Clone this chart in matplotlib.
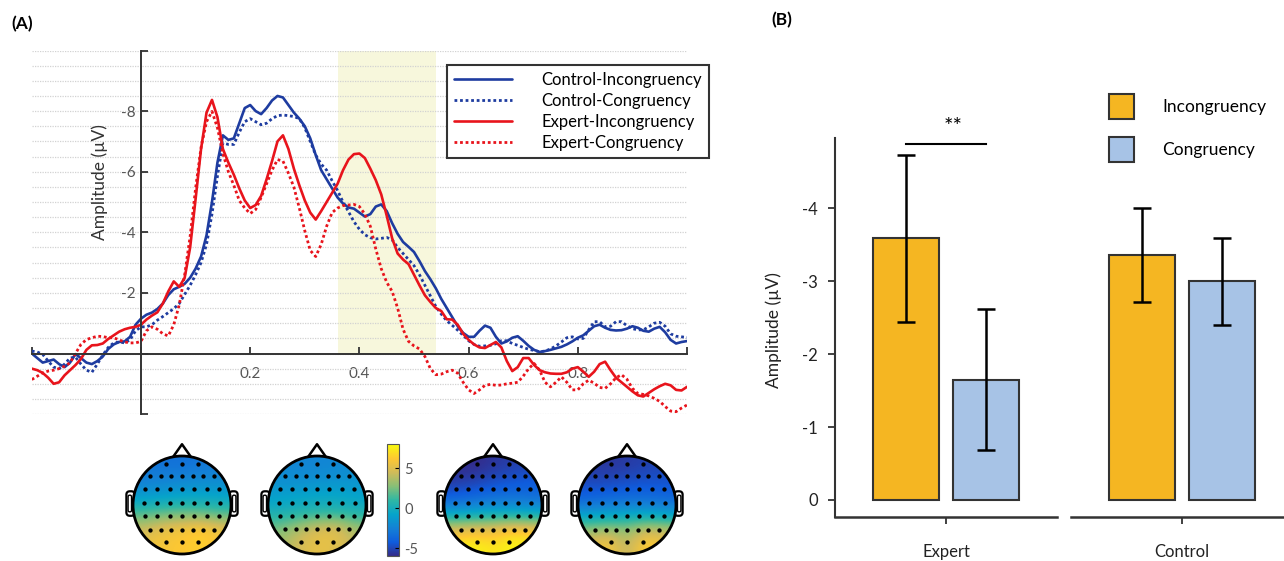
import numpy as np
import matplotlib
matplotlib.use("Agg")
import matplotlib.pyplot as plt
from matplotlib.colors import LinearSegmentedColormap, Normalize
from matplotlib.patches import Circle, Polygon, FancyBboxPatch
from matplotlib.lines import Line2D
from matplotlib.cm import ScalarMappable
from matplotlib.ticker import MultipleLocator, FixedLocator, FixedFormatter

plt.rcParams["font.family"] = ["Lato", "DejaVu Sans"]
plt.rcParams["axes.unicode_minus"] = False

W, H = 1284, 561

# ---------------- data: ERP waveforms (uV), 10 ms steps from -0.2 to 1.0 s
time = np.round(np.arange(-0.20, 1.0001, 0.01), 2)

ctrl_incong = [
    0.0, 0.15, 0.3, 0.25, 0.2, 0.35, 0.45, 0.3, 0.02, 0.15,
    0.3, 0.35, 0.25, 0.1, -0.15, -0.3, -0.38, -0.4, -0.55, -0.95,
    -1.15, -1.28, -1.35, -1.47, -1.65, -1.93, -2.12, -2.2, -2.3, -2.5,
    -2.8, -3.2, -3.9, -5.0, -6.3, -7.2, -7.05, -7.1, -7.6, -8.1,
    -8.2, -8.0, -7.9, -8.1, -8.35, -8.5, -8.45, -8.2, -7.95, -7.75,
    -7.5, -7.1, -6.55, -6.05, -5.75, -5.45, -5.15, -4.95, -4.82, -4.78,
    -4.65, -4.52, -4.6, -4.85, -4.92, -4.7, -4.3, -3.95, -3.68, -3.52,
    -3.35, -3.05, -2.72, -2.45, -2.15, -1.8, -1.5, -1.2, -0.9, -0.68,
    -0.55, -0.55, -0.75, -0.92, -0.85, -0.55, -0.33, -0.4, -0.52, -0.57,
    -0.42, -0.25, -0.12, -0.05, -0.08, -0.12, -0.17, -0.22, -0.3, -0.4,
    -0.52, -0.6, -0.75, -0.9, -0.95, -0.85, -0.78, -0.76, -0.77, -0.82,
    -0.9, -0.85, -0.75, -0.72, -0.82, -0.88, -0.7, -0.45, -0.33, -0.38,
    -0.41,
]
ctrl_cong = [
    -0.08, -0.05, 0.03, 0.25, 0.45, 0.5, 0.35, 0.15, 0.12, 0.35,
    0.55, 0.62, 0.35, 0.05, -0.2, -0.35, -0.38, -0.35, -0.45, -0.75,
    -0.88, -0.88, -0.95, -1.1, -1.22, -1.35, -1.48, -1.65, -1.95, -2.25,
    -2.6, -3.0, -3.6, -4.6, -5.85, -6.95, -6.9, -6.9, -7.3, -7.65,
    -7.75, -7.65, -7.55, -7.6, -7.75, -7.85, -7.87, -7.85, -7.82, -7.75,
    -7.45, -7.0, -6.55, -6.25, -6.05, -5.7, -5.38, -5.0, -4.68, -4.35,
    -4.1, -3.92, -3.82, -3.78, -3.8, -3.83, -3.75, -3.5, -3.3, -3.1,
    -2.9, -2.6, -2.25, -1.9, -1.55, -1.3, -1.08, -0.93, -0.77, -0.6,
    -0.42, -0.3, -0.24, -0.25, -0.27, -0.32, -0.42, -0.42, -0.33, -0.27,
    -0.2, -0.14, -0.1, -0.06, -0.08, -0.15, -0.25, -0.38, -0.52, -0.55,
    -0.48, -0.5, -0.78, -1.05, -1.05, -0.88, -0.9, -1.05, -1.05, -0.92,
    -0.82, -0.78, -0.78, -0.88, -1.0, -1.03, -0.9, -0.65, -0.57, -0.55,
    -0.53,
]
expert_incong = [
    0.5, 0.55, 0.64, 0.8, 1.0, 0.95, 0.72, 0.55, 0.38, 0.18,
    -0.12, -0.27, -0.28, -0.33, -0.48, -0.6, -0.72, -0.8, -0.85, -0.88,
    -0.95, -1.12, -1.25, -1.36, -1.65, -2.05, -2.38, -2.2, -2.5, -3.5,
    -5.1, -6.75, -7.95, -8.37, -7.8, -6.75, -6.3, -5.9, -5.45, -5.05,
    -4.8, -4.9, -5.2, -5.75, -6.35, -7.0, -7.2, -6.75, -6.1, -5.55,
    -5.05, -4.65, -4.42, -4.7, -5.0, -5.3, -5.6, -6.05, -6.4, -6.58,
    -6.6, -6.45, -6.1, -5.72, -5.25, -4.55, -3.8, -3.3, -3.1, -2.95,
    -2.6, -2.25, -1.92, -1.7, -1.5, -1.4, -1.13, -1.12, -0.95, -0.65,
    -0.45, -0.3, -0.2, -0.18, -0.28, -0.38, -0.2, 0.25, 0.58, 0.45,
    0.15, 0.15, 0.38, 0.55, 0.62, 0.66, 0.67, 0.67, 0.62, 0.5,
    0.45, 0.6, 0.77, 0.6, 0.35, 0.27, 0.55, 0.8, 0.95, 1.1,
    1.25, 1.38, 1.42, 1.3, 1.18, 1.08, 1.0, 1.05, 1.2, 1.22,
    1.1,
]
expert_cong = [
    0.86, 0.75, 0.64, 0.58, 0.55, 0.5, 0.42, 0.31, 0.0, -0.3,
    -0.46, -0.52, -0.57, -0.56, -0.52, -0.52, -0.45, -0.38, -0.35, -0.35,
    -0.4, -0.75, -0.88, -0.8, -0.65, -0.58, -0.95, -1.6, -2.6, -3.87,
    -5.45, -6.8, -7.65, -7.99, -7.45, -6.6, -6.0, -5.55, -5.05, -4.8,
    -4.62, -4.75, -5.15, -5.6, -6.05, -6.4, -6.35, -5.95, -5.49, -4.8,
    -4.05, -3.4, -3.2, -3.6, -4.2, -4.65, -4.8, -4.88, -4.9, -4.92,
    -4.85, -4.6, -4.2, -3.45, -2.8, -2.35, -2.05, -1.5, -0.8, -0.4,
    -0.25, -0.15, 0.1, 0.5, 0.7, 0.68, 0.6, 0.55, 0.65, 0.95,
    1.2, 1.32, 1.2, 1.05, 1.02, 1.05, 1.04, 1.0, 0.98, 0.95,
    0.75, 0.5, 0.33, 0.55, 0.95, 1.1, 0.95, 0.77, 0.95, 1.2,
    1.2, 1.0, 0.88, 0.98, 1.12, 1.15, 1.0, 0.8, 0.7, 0.85,
    1.15, 1.32, 1.35, 1.4, 1.48, 1.58, 1.75, 1.9, 1.92, 1.8,
    1.7,
]
series_labels = ["Control-Incongruency", "Control-Congruency",
                 "Expert-Incongruency", "Expert-Congruency"]
window = (0.361, 0.541)  # analysis window (s)

# ---------------- data: topographies (uV), rows front -> back, cols left -> right
topo_maps = [
    np.array([[-3.0, -3.2, -3.3, -3.0, -2.8],
              [-2.6, -2.4, -2.2, -2.0, -2.0],
              [-1.2, -1.0, -0.8, -0.6, -0.8],
              [1.5, 2.0, 2.2, 2.0, 1.5],
              [4.5, 5.5, 6.0, 6.8, 5.5],
              [5.5, 6.0, 6.2, 6.5, 6.0]]),
    np.array([[-2.2, -2.3, -2.3, -2.2, -2.0],
              [-1.8, -1.8, -1.7, -1.6, -1.6],
              [-1.0, -0.8, -0.6, -0.6, -0.8],
              [0.2, 0.5, 0.8, 0.8, 0.4],
              [2.5, 3.8, 5.0, 5.5, 3.5],
              [3.5, 4.5, 5.5, 5.0, 4.0]]),
    np.array([[-5.8, -6.0, -5.6, -5.3, -5.1],
              [-5.5, -5.3, -4.8, -4.5, -4.3],
              [-4.2, -3.8, -3.5, -3.3, -3.5],
              [-1.0, -0.8, -0.5, -0.5, -0.8],
              [5.0, 5.5, 5.5, 6.5, 6.0],
              [7.5, 8.0, 7.0, 8.0, 7.5]]),
    np.array([[-5.4, -5.6, -5.4, -5.2, -5.0],
              [-5.0, -5.0, -4.8, -4.6, -4.6],
              [-4.1, -3.9, -3.7, -3.7, -3.9],
              [-1.5, -1.2, -1.0, -1.0, -1.4],
              [3.0, 3.5, 3.0, 4.5, 4.0],
              [5.0, 6.5, 3.5, 7.0, 5.5]]),
]
topo_range = (-6, 8)
# electrode layout (unit head radius): row height and x positions per row
elec_rows_y = [0.83, 0.59, 0.32, 0.05, -0.23, -0.50, -0.75]
elec_rows_x = [
    [-0.33, 0.0, 0.33],
    [-0.645, -0.43, -0.215, 0.0, 0.215, 0.43, 0.645],
    [-0.76, -0.51, -0.25, 0.0, 0.25, 0.51, 0.76],
    [-0.78, -0.51, -0.25, 0.0, 0.25, 0.51, 0.78],
    [-0.76, -0.51, -0.25, 0.0, 0.25, 0.51, 0.76],
    [-0.645, -0.43, -0.215, 0.0, 0.215, 0.43, 0.645],
    [-0.33, 0.0, 0.33],
]

# ---------------- data: mean amplitude in window (uV)
groups = ["Expert", "Control"]
conditions = ["Incongruency", "Congruency"]
bar_means = {"Incongruency": [-3.59, -3.36], "Congruency": [-1.65, -3.00]}
bar_errs = {"Incongruency": [1.145, 0.64], "Congruency": [0.97, 0.60]}

# parula-like colormap
parula = LinearSegmentedColormap.from_list("parula", [
    "#352A87", "#0F5CDD", "#1481D6", "#06A4CA", "#2EB7A4",
    "#87BF77", "#D1BB59", "#FEC832", "#F9FB0E"])

BLUE = "#1E3CA0"
RED = "#E8141C"
GREY = "#333333"


def px_axes(fig, x0, y0, x1, y1):
    """Add axes from a pixel box (origin top-left)."""
    return fig.add_axes([x0 / W, 1 - y1 / H, (x1 - x0) / W, (y1 - y0) / H])


fig = plt.figure(figsize=(W / 100, H / 100), dpi=100)

# ================= (A) ERP waveforms
ax = px_axes(fig, 31.8, 50.5, 687, 414.1)
ax.set_xlim(-0.2, 1.0)
ax.set_ylim(2, -10)
ax.set_axisbelow(True)

ax.fill_between(window, 0, -10, color="#F7F7DC", lw=0, zorder=0.3)

styles = [(BLUE, "-"), (BLUE, (0, (1, 1))), (RED, "-"), (RED, (0, (1, 1)))]
for vals, label, (col, ls) in zip([ctrl_incong, ctrl_cong, expert_incong, expert_cong],
                                  series_labels, styles):
    ax.plot(time, vals, color=col, ls=ls, lw=2.0 if ls != "-" else 1.9, label=label,
            solid_capstyle="round")

for side in ("top", "right"):
    ax.spines[side].set_visible(False)
ax.spines["left"].set_position(("data", 0))
ax.spines["bottom"].set_position(("data", 0))
for side in ("left", "bottom"):
    ax.spines[side].set_color(GREY)
    ax.spines[side].set_linewidth(1.4)

ax.yaxis.set_major_locator(FixedLocator([-10, -8, -6, -4, -2, 0, 2]))
ax.yaxis.set_major_formatter(FixedFormatter(["", "-8", "-6", "-4", "-2", "", ""]))
ax.yaxis.set_minor_locator(MultipleLocator(0.5))
ax.xaxis.set_major_locator(FixedLocator([-0.2, 0, 0.2, 0.4, 0.6, 0.8, 1.0]))
ax.xaxis.set_major_formatter(FixedFormatter(["", "", "0.2", "0.4", "0.6", "0.8", ""]))
ax.tick_params(axis="both", which="major", direction="in", length=5, width=1.3,
               color=GREY, labelsize=11, labelcolor="#555555")
ax.tick_params(axis="y", which="major", pad=4)
ax.tick_params(axis="x", which="major", pad=10)
ax.tick_params(axis="y", which="minor", length=0)
ax.grid(True, axis="y", which="both", color="#D2D2D2", ls=(0, (1, 1)), lw=0.9)

fig.text(100 / W, 1 - 182 / H, "Amplitude (µV)", rotation=90, ha="center",
         va="center", fontsize=12.5, color=GREY)
fig.text(11 / W, 1 - 24 / H, "(A)", ha="left", va="center", fontsize=12.5,
         fontweight="bold")

leg = fig.legend(*ax.get_legend_handles_labels(), loc="upper left",
                 bbox_to_anchor=(447 / W, 1 - 65 / H), borderaxespad=0,
                 fontsize=12, handlelength=3.5, handletextpad=1.75,
                 labelspacing=0.3, borderpad=0.42, fancybox=False,
                 framealpha=1, edgecolor=GREY)
leg.get_frame().set_linewidth(1.5)

# ---------------- topographies
norm = Normalize(*topo_range)
elec_x = [x for row in elec_rows_x for x in row]
elec_y = [y for y, row in zip(elec_rows_y, elec_rows_x) for _ in row]
head_cx = [182, 317, 493, 627]
head_cy, R = 505, 49
for cx, grid in zip(head_cx, topo_maps):
    tax = px_axes(fig, cx - 1.25 * R, head_cy - 1.4 * R, cx + 1.25 * R, head_cy + 1.1 * R)
    tax.set_xlim(-1.25, 1.25)
    tax.set_ylim(-1.1, 1.4)
    tax.axis("off")
    for sgn in (-1, 1):
        ear = FancyBboxPatch((sgn * 1.05 - 0.085, -0.22), 0.17, 0.5,
                             boxstyle="round,pad=0,rounding_size=0.07",
                             fc="white", ec="black", lw=1.6, zorder=1)
        tax.add_patch(ear)
        inner = FancyBboxPatch((sgn * 1.065 - 0.035, -0.14), 0.07, 0.34,
                               boxstyle="round,pad=0,rounding_size=0.03",
                               fc="white", ec="black", lw=1.0, zorder=1)
        tax.add_patch(inner)
    nose = Polygon([(-0.19, 0.97), (0, 1.24), (0.19, 0.97)], closed=False,
                   fill=False, ec="black", lw=1.8, joinstyle="round", zorder=1)
    tax.add_patch(nose)
    clip = Circle((0, 0), 1.0, transform=tax.transData)
    im = tax.imshow(grid, extent=(-1, 1, -1, 1), origin="upper", cmap=parula,
                    norm=norm, interpolation="bicubic", zorder=2)
    im.set_clip_path(clip)
    tax.add_patch(Circle((0, 0), 1.0, fill=False, ec="black", lw=2.0, zorder=4))
    tax.plot(elec_x, elec_y, ls="none", marker="o", ms=2.1, color="black", zorder=3)

cax = px_axes(fig, 386.7, 444.3, 399, 444.3 + 14 * 8.0)
cb = fig.colorbar(ScalarMappable(norm=norm, cmap=parula), cax=cax, ticks=[-5, 0, 5])
cb.outline.set_linewidth(0.8)
cb.outline.set_edgecolor("#555555")
cax.tick_params(length=3, width=0.8, direction="in", labelsize=10.5,
                labelcolor="#555555", pad=4)

# ================= (B) bar chart
bx = px_axes(fig, 834.6, 137.7, 1284, 517.3)
px_per_unit = 236.0
bx.set_xlim(-(946 - 834.6) / px_per_unit, (1284 - 946) / px_per_unit)
bx.set_ylim((517.3 - 500) / 72.9, -(500 - 137.7) / 72.9)

xpos = np.arange(len(groups))
bar_w, offset = 0.28, 0.169
bar_colors = {"Incongruency": "#F5B622", "Congruency": "#A7C3E6"}
for k, cond in enumerate(conditions):
    bx.bar(xpos + (2 * k - 1) * offset, bar_means[cond], bar_w,
           color=bar_colors[cond], edgecolor=GREY, lw=1.5,
           yerr=bar_errs[cond], capsize=6.5,
           error_kw=dict(elinewidth=1.8, capthick=1.8, ecolor="black"),
           label=cond, zorder=2)

# significance marker between Expert bars
sig_y = bar_means["Incongruency"][0] - bar_errs["Incongruency"][0] - 0.15
bx.plot([xpos[0] - offset, xpos[0] + offset], [sig_y, sig_y], color="black",
        lw=1.5, clip_on=False)
bx.text(xpos[0] + 0.03, sig_y - 0.1, "**", ha="center", va="bottom", fontsize=16)

for side in ("top", "right", "bottom"):
    bx.spines[side].set_visible(False)
bx.spines["left"].set_color(GREY)
bx.spines["left"].set_linewidth(1.5)
# broken baseline under each group
ybot = bx.get_ylim()[0]
xl = bx.get_xlim()
half_gap = 0.03
bx.plot([xl[0], xpos[0] + 0.5 - half_gap], [ybot, ybot], color=GREY, lw=1.8,
        clip_on=False)
bx.plot([xpos[1] - 0.5 + half_gap, xl[1]], [ybot, ybot], color=GREY, lw=1.8,
        clip_on=False)

bx.set_yticks([0, -1, -2, -3, -4])
bx.set_yticklabels(["0", "-1", "-2", "-3", "-4"])
bx.set_xticks(xpos)
bx.set_xticklabels(groups)
bx.tick_params(axis="y", direction="out", length=5, width=1.3, color=GREY,
               labelsize=12, labelcolor="#222222", pad=7)
bx.tick_params(axis="x", direction="out", length=5, width=1.3, color=GREY,
               labelsize=12, labelcolor="#222222", pad=14)

fig.text(774 / W, 1 - 330 / H, "Amplitude (µV)", rotation=90, ha="center",
         va="center", fontsize=12.5, color="#222222")
fig.text(771 / W, 1 - 20 / H, "(B)", ha="left", va="center", fontsize=12.5,
         fontweight="bold")

bhandles = [Line2D([], [], ls="none", marker="s", ms=18, mfc=bar_colors[c],
                   mec=GREY, mew=1.5) for c in conditions]
fig.legend(bhandles, conditions, loc="upper left", frameon=False,
           bbox_to_anchor=(1100 / W, 1 - 92 / H), borderaxespad=0,
           fontsize=12.5, handlelength=1.6, handletextpad=1.6, labelspacing=1.55)

fig.savefig("out.png", dpi=100)
